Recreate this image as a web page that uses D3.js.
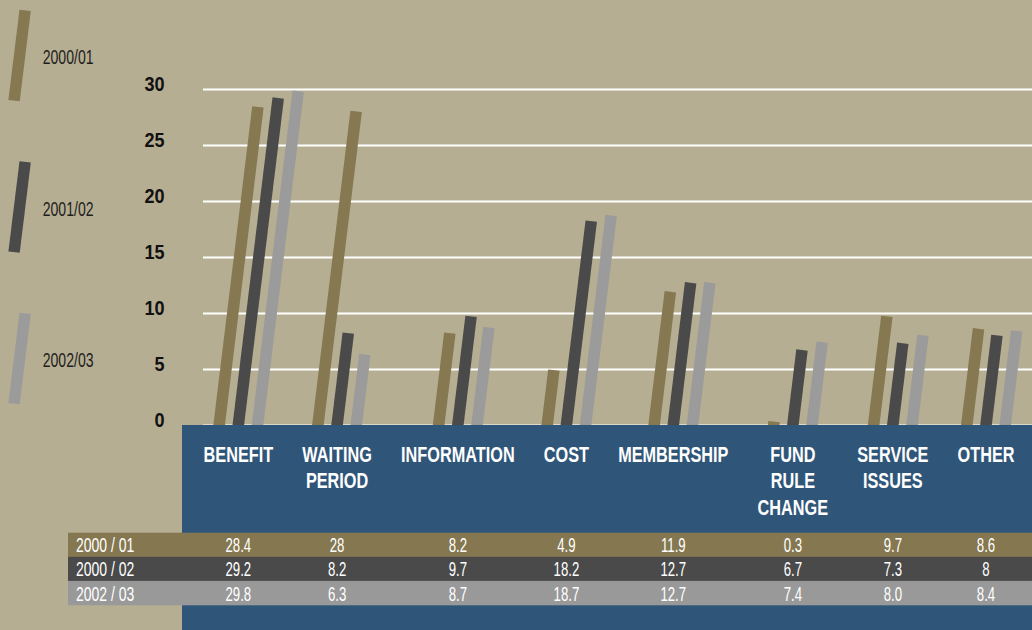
<!DOCTYPE html>
<html>
<head>
<meta charset="utf-8">
<script src="https://cdn.jsdelivr.net/npm/d3@7"></script>
<style>
  html, body { margin: 0; padding: 0; background: #b6ae92; }
  svg { display: block; }
  text { font-family: "Liberation Sans", Arial, sans-serif; }
</style>
</head>
<body>
<svg id="chart" width="1032" height="630"></svg>
<script>
// ---------- data ----------
const categories = ["BENEFIT", "WAITING PERIOD", "INFORMATION", "COST", "MEMBERSHIP", "FUND RULE CHANGE", "SERVICE ISSUES", "OTHER"];
const categoryLines = [["BENEFIT"], ["WAITING", "PERIOD"], ["INFORMATION"], ["COST"], ["MEMBERSHIP"], ["FUND", "RULE", "CHANGE"], ["SERVICE", "ISSUES"], ["OTHER"]];
const seriesNames = ["2000/01", "2001/02", "2002/03"];
const tableRowLabels = ["2000 / 01", "2000 / 02", "2002 / 03"];
const values2000_01 = [28.4, 28, 8.2, 4.9, 11.9, 0.3, 9.7, 8.6];
const values2001_02 = [29.2, 8.2, 9.7, 18.2, 12.7, 6.7, 7.3, 8];
const values2002_03 = [29.8, 6.3, 8.7, 18.7, 12.7, 7.4, 8.0, 8.4];
const table2000_01 = ["28.4", "28", "8.2", "4.9", "11.9", "0.3", "9.7", "8.6"];
const table2001_02 = ["29.2", "8.2", "9.7", "18.2", "12.7", "6.7", "7.3", "8"];
const table2002_03 = ["29.8", "6.3", "8.7", "18.7", "12.7", "7.4", "8.0", "8.4"];
const yTicks = [0, 5, 10, 15, 20, 25, 30];

const seriesValues = [values2000_01, values2001_02, values2002_03];
const tableStrings = [table2000_01, table2001_02, table2002_03];

// ---------- styles / layout ----------
const W = 1032, H = 630;
const colors = ["#867850", "#4a4a4a", "#9b9b9b"];
const rowColors = ["#857850", "#4a4a4a", "#999999"];
const panelColor = "#2f5679";
const y0 = 425;
const plotLeft = 203, plotRight = W;
const tanT = 0.122;
const theta = Math.atan(tanT);
const barW = 11.5; // perpendicular width

const svg = d3.select("#chart");
svg.append("rect").attr("width", W).attr("height", H).attr("fill", "#b6ae92");

const y = d3.scaleLinear().domain([0, 30]).range([y0, 89]);

// ---------- gridlines + y axis ----------
const yAxis = d3.axisLeft(y).tickValues(yTicks).tickSize(-(plotRight - plotLeft)).tickPadding(0);
const gAxis = svg.append("g").attr("transform", `translate(${plotLeft},0)`).call(yAxis);
gAxis.select(".domain").remove();
gAxis.selectAll(".tick line").attr("stroke", "#ffffff").attr("stroke-width", 2);
gAxis.selectAll(".tick text")
  .attr("x", null).attr("dy", null)
  .attr("transform", "translate(-38.5,1.5) scale(0.86,1)")
  .attr("text-anchor", "end")
  .attr("fill", "#111")
  .style("font-size", "21px").style("font-weight", "bold");

// ---------- category label layout (measured) ----------
const labelScale = 0.74;
const labelFont = 22;
const measure = svg.append("g").attr("visibility", "hidden");
const widths = categoryLines.map(lines => d3.max(lines, l => {
  const t = measure.append("text").style("font-size", labelFont + "px").style("font-weight", "bold").text(l);
  const w = t.node().getComputedTextLength() * labelScale;
  t.remove();
  return w;
}));
measure.remove();
const labelStart = 203.5, labelEnd = 1014.5;
const gap = (labelEnd - labelStart - d3.sum(widths)) / (categories.length - 1);
let cursor = labelStart;
const centers = widths.map(w => { const c = cursor + w / 2; cursor += w + gap; return c; });
const xCat = d3.scaleOrdinal().domain(categories).range(centers);

// series offsets within a group
const xSeries = d3.scaleBand().domain(seriesNames).range([-25.05, 25.05]).paddingInner(0.39).paddingOuter(0);

// ---------- bars (rotated rectangles) ----------
function barPath(cx0, v) {
  const ty = y(v);
  const tx = cx0 + (y0 - ty) * tanT;
  const hw = barW / 2;
  const tl = [tx - hw * Math.cos(theta), ty - hw * Math.sin(theta)];
  const tr = [tx + hw * Math.cos(theta), ty + hw * Math.sin(theta)];
  const yb = y0 + 12;
  const bl = [tl[0] - (yb - tl[1]) * tanT, yb];
  const br = [tr[0] - (yb - tr[1]) * tanT, yb];
  return `M${tl}L${tr}L${br}L${bl}Z`;
}

const gBars = svg.append("g");
seriesNames.forEach((s, si) => {
  gBars.selectAll(null)
    .data(categories.map((c, ci) => ({ c, v: seriesValues[si][ci] })))
    .join("path")
    .attr("fill", colors[si])
    .attr("d", d => barPath(xCat(d.c) + xSeries(s) + xSeries.bandwidth() / 2, d.v));
});

// ---------- panel ----------
svg.append("rect").attr("x", 182).attr("y", y0).attr("width", W - 182).attr("height", H - y0).attr("fill", panelColor);

// category labels
const gLab = svg.append("g");
categories.forEach((c, ci) => {
  categoryLines[ci].forEach((line, li) => {
    gLab.append("text")
      .attr("transform", `translate(${xCat(c)},${461.8 + li * 26.6}) scale(${labelScale},1)`)
      .attr("text-anchor", "middle")
      .attr("fill", "#ffffff")
      .style("font-size", labelFont + "px").style("font-weight", "bold")
      .text(line);
  });
});

// ---------- table ----------
const rowY = d3.scaleBand().domain(seriesNames).range([532.7, 605]).paddingInner(0);
const gTab = svg.append("g");
seriesNames.forEach((s, si) => {
  gTab.append("rect").attr("x", 68).attr("y", rowY(s)).attr("width", W - 68).attr("height", rowY.bandwidth() + 0.3).attr("fill", rowColors[si]);
  gTab.append("text")
    .attr("transform", `translate(76,${rowY(s) + 19.6}) scale(0.7,1)`)
    .attr("fill", "#fff").style("font-size", "20px")
    .text(tableRowLabels[si]);
  gTab.selectAll(null).data(categories).join("text")
    .attr("transform", c => `translate(${xCat(c)},${rowY(s) + 19.6}) scale(0.66,1)`)
    .attr("text-anchor", "middle")
    .attr("fill", "#fff").style("font-size", "20px")
    .text((c, ci) => tableStrings[si][ci]);
});

// ---------- legend ----------
const legY = d3.scalePoint().domain(seriesNames).range([55.5, 358.5]);
const gLeg = svg.append("g");
seriesNames.forEach((s, si) => {
  gLeg.append("rect")
    .attr("transform", `translate(19.6,${legY(s)}) rotate(7)`)
    .attr("x", -5.7).attr("y", -45.5).attr("width", 11.4).attr("height", 91)
    .attr("fill", colors[si]);
  gLeg.append("text")
    .attr("transform", `translate(42.7,${legY(s) + 8.8}) scale(0.67,1)`)
    .attr("fill", "#1e1e1e").style("font-size", "21px")
    .text(s);
});
</script>
</body>
</html>
